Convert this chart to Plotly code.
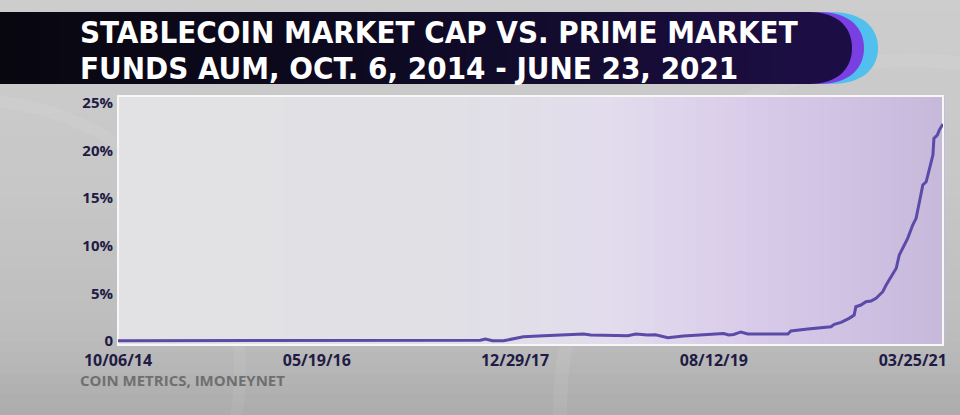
import plotly.graph_objects as go

# ---------------- data ----------------
dates = [
    "2014-10-06", "2017-09-17", "2017-10-02", "2017-10-23", "2017-11-25", "2017-12-22",
    "2018-01-23", "2018-03-24", "2018-05-22", "2018-07-21", "2018-08-11", "2018-11-08",
    "2018-11-29", "2018-12-23", "2019-01-27", "2019-02-20", "2019-03-28", "2019-05-14",
    "2019-06-25", "2019-09-10", "2019-09-25", "2019-10-10", "2019-10-31", "2019-11-21",
    "2020-03-19", "2020-03-28", "2020-05-17", "2020-07-25", "2020-08-04", "2020-08-24",
    "2020-09-17", "2020-10-02", "2020-10-07", "2020-10-22", "2020-11-06", "2020-11-21",
    "2020-12-06", "2020-12-26", "2021-01-05", "2021-01-20", "2021-02-04", "2021-02-13",
    "2021-02-23", "2021-03-10", "2021-03-25", "2021-04-04", "2021-04-14", "2021-04-24",
    "2021-05-04", "2021-05-14", "2021-05-24", "2021-05-27", "2021-06-06", "2021-06-12",
    "2021-06-23",
]
share_pct = [
    0.03, 0.08, 0.21, 0.02, 0.02, 0.21,
    0.45, 0.56, 0.63, 0.74, 0.63, 0.63,
    0.56, 0.74, 0.63, 0.66, 0.35, 0.53,
    0.63, 0.79, 0.63, 0.68, 0.95, 0.74,
    0.74, 1.05, 1.26, 1.50, 1.75, 1.96,
    2.38, 2.73, 3.60, 3.78, 4.13, 4.20,
    4.49, 5.18, 5.88, 6.75, 7.64, 9.03,
    9.74, 10.79, 12.18, 12.89, 14.63, 16.39,
    16.73, 18.14, 19.54, 21.29, 21.64, 22.16,
    22.80,
]
x_tick_dates = ["2014-10-06", "2016-05-19", "2017-12-29", "2019-08-12", "2021-03-25"]
x_tick_labels = ["10/06/14", "05/19/16", "12/29/17", "08/12/19", "03/25/21"]
y_tick_vals = [0, 5, 10, 15, 20, 25]
y_tick_labels = ["0", "5%", "10%", "15%", "20%", "25%"]
title_lines = ["STABLECOIN MARKET CAP VS. PRIME MARKET", "FUNDS AUM, OCT. 6, 2014 - JUNE 23, 2021"]
source_text = "COIN METRICS, IMONEYNET"

# ---------------- geometry helpers ----------------
FW, FH = 960, 415
L, R, T, B = 118, 943, 96, 345
PW, PH = R - L, B - T


def px(x):
    return (x - L) / PW


def py(y):
    return (B - y) / PH


def lerp_color(stops, t):
    for i in range(len(stops) - 1):
        t0, c0 = stops[i]
        t1, c1 = stops[i + 1]
        if t0 <= t <= t1:
            f = 0 if t1 == t0 else (t - t0) / (t1 - t0)
            c = [round(c0[k] + (c1[k] - c0[k]) * f) for k in range(3)]
            return "rgb(%d,%d,%d)" % tuple(c)
    c = stops[-1][1]
    return "rgb(%d,%d,%d)" % tuple(c)


shapes = []

# paper background gradient (vertical)
paper_stops = [(0, (205, 205, 205)), (0.45, (199, 199, 199)), (0.8, (189, 189, 189)), (1.0, (172, 172, 172))]
N = 40
for i in range(N):
    y0 = FH * i / N
    y1 = FH * (i + 1) / N + 0.6
    shapes.append(dict(type="rect", xref="paper", yref="paper", x0=px(-2), x1=px(FW + 2),
                       y0=py(y1), y1=py(y0), line=dict(width=0),
                       fillcolor=lerp_color(paper_stops, (i + 0.5) / N), layer="below"))

# soft swirl highlights
shapes.append(dict(type="circle", xref="paper", yref="paper", x0=px(560), x1=px(1260), y0=py(760), y1=py(60),
                   line=dict(color="rgba(255,255,255,0.07)", width=14), fillcolor="rgba(0,0,0,0)", layer="below"))
shapes.append(dict(type="circle", xref="paper", yref="paper", x0=px(-300), x1=px(240), y0=py(640), y1=py(100),
                   line=dict(color="rgba(255,255,255,0.06)", width=12), fillcolor="rgba(0,0,0,0)", layer="below"))


def pill(xend, y0, y1, cap):
    xs = xend - cap
    ym = (y0 + y1) / 2
    return ("M %f,%f L %f,%f C %f,%f %f,%f %f,%f C %f,%f %f,%f %f,%f L %f,%f Z" % (
        px(-2), py(y0), px(xs), py(y0),
        px(xs + cap * 0.75), py(y0), px(xend), py(ym - (y1 - y0) * 0.25), px(xend), py(ym),
        px(xend), py(ym + (y1 - y0) * 0.25), px(xs + cap * 0.75), py(y1), px(xs), py(y1),
        px(-2), py(y1)))


BT, BB = 12, 84
shapes.append(dict(type="path", xref="paper", yref="paper", path=pill(878, BT, BB, 48),
                   fillcolor="#52c0ee", line=dict(width=0), layer="below"))
shapes.append(dict(type="path", xref="paper", yref="paper", path=pill(864, BT, BB, 46),
                   fillcolor="#7a3fe2", line=dict(width=0), layer="below"))
shapes.append(dict(type="path", xref="paper", yref="paper", path=pill(852, BT, BB, 44),
                   fillcolor="#1c0e44", line=dict(width=0), layer="below"))
banner_stops = [(0, (8, 7, 16)), (0.5, (14, 10, 34)), (1.0, (28, 14, 68))]
NB = 40
for i in range(NB):
    x0 = -2 + 812 * i / NB
    x1 = -2 + 812 * (i + 1) / NB + 0.6
    shapes.append(dict(type="rect", xref="paper", yref="paper", x0=px(x0), x1=px(x1),
                       y0=py(BB), y1=py(BT), line=dict(width=0),
                       fillcolor=lerp_color(banner_stops, (i + 0.5) / NB), layer="below"))

# plot-area gradient (horizontal)
plot_stops = [(0, (226, 226, 228)), (0.4, (225, 224, 229)), (0.6, (226, 220, 237)),
              (0.75, (218, 205, 234)), (0.9, (206, 192, 226)), (1.0, (198, 185, 218))]
NP = 80
for i in range(NP):
    shapes.append(dict(type="rect", xref="x domain", yref="y domain", x0=i / NP, x1=(i + 1) / NP + 0.002,
                       y0=0, y1=1, line=dict(width=0),
                       fillcolor=lerp_color(plot_stops, (i + 0.5) / NP), layer="below"))
# white frame
shapes.append(dict(type="rect", xref="x domain", yref="y domain", x0=0, x1=1, y0=0, y1=1,
                   line=dict(color="#f7f7f7", width=2), fillcolor="rgba(0,0,0,0)", layer="below"))

fig = go.Figure()
fig.add_trace(go.Scatter(x=dates, y=share_pct, mode="lines",
                         line=dict(color="#5b4aa8", width=3), hoverinfo="skip", showlegend=False))

tick_font = dict(family="Open Sans, Noto Sans, sans-serif", size=16, color="#1f1b45", weight="bold")
title_font = dict(family="Liberation Sans Narrow, DejaVu Sans Condensed, sans-serif",
                  size=31, color="white", weight="bold")

annotations = [
    dict(text=title_lines[0], xref="paper", yref="paper", x=px(78), y=py(32.5), xanchor="left", yanchor="middle",
         showarrow=False, font=title_font),
    dict(text=title_lines[1], xref="paper", yref="paper", x=px(78), y=py(68.5), xanchor="left", yanchor="middle",
         showarrow=False, font=title_font),
    dict(text=source_text, xref="paper", yref="paper", x=px(78), y=py(380), xanchor="left", yanchor="middle",
         showarrow=False, font=dict(family="Open Sans, sans-serif", size=15, color="#6f6f6f", weight="bold")),
]

fig.update_layout(
    width=FW, height=FH,
    margin=dict(l=L, r=FW - R, t=T, b=FH - B, pad=0),
    paper_bgcolor="#c4c4c4",
    plot_bgcolor="rgba(0,0,0,0)",
    shapes=shapes,
    annotations=annotations,
    showlegend=False,
    xaxis=dict(type="date", range=["2014-10-06", "2021-06-23"], tickmode="array",
               tickvals=x_tick_dates, ticktext=x_tick_labels, showgrid=False, zeroline=False,
               showline=False, ticks="", tickfont=tick_font, ticklabelstandoff=4, fixedrange=True),
    yaxis=dict(range=[-0.42, 25.74], tickmode="array", tickvals=y_tick_vals, ticktext=y_tick_labels,
               showgrid=False, zeroline=False, showline=False, ticks="",
               tickfont=dict(family="Open Sans, Noto Sans, sans-serif", size=15, color="#1f1b45", weight="bold"),
               ticklabelstandoff=4, fixedrange=True),
)

fig.write_html("out.html")
